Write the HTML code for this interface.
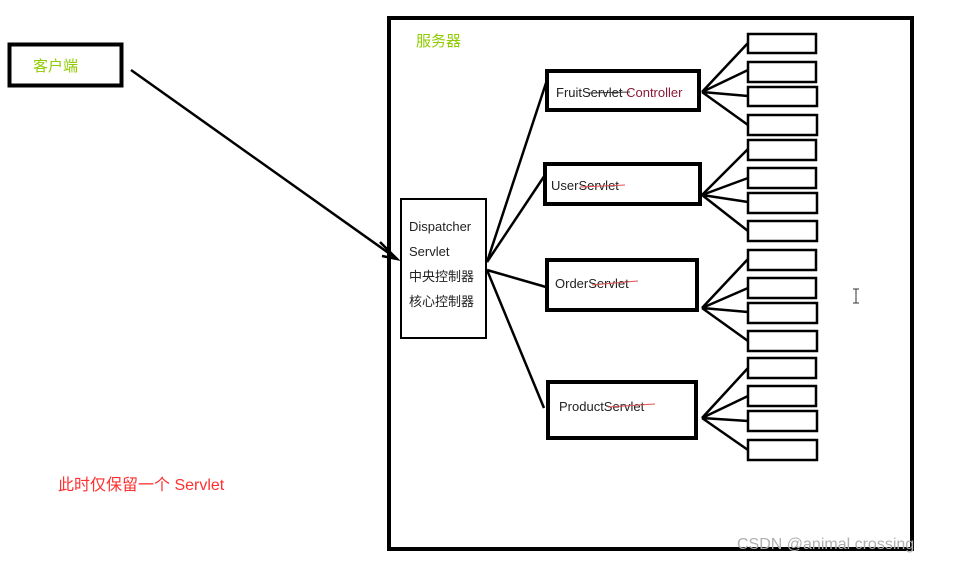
<!DOCTYPE html>
<html><head><meta charset="utf-8"><style>
html,body{margin:0;padding:0;background:#fff;width:962px;height:563px;overflow:hidden}
svg text{font-family:"Liberation Sans","Noto Sans CJK SC",sans-serif}
</style></head><body>
<svg width="962" height="563" viewBox="0 0 962 563" xmlns="http://www.w3.org/2000/svg">
<rect x="0" y="0" width="962" height="563" fill="#fff"/>
<!-- server box -->
<rect x="389" y="18" width="523" height="531" fill="none" stroke="#000" stroke-width="4"/>
<text x="416" y="46" font-size="15" fill="#8fcc00">服务器</text>
<!-- client -->
<rect x="9.5" y="44.5" width="112" height="41" fill="none" stroke="#000" stroke-width="4"/>
<text x="33" y="71" font-size="15" fill="#8fcc00">客户端</text>
<!-- arrow -->
<line x1="131" y1="70" x2="397" y2="259" stroke="#000" stroke-width="2.5"/>
<path d="M380 242 L397 259 L382 256" fill="none" stroke="#000" stroke-width="2.5"/>
<!-- dispatcher -->
<rect x="401" y="199" width="85" height="139" fill="#fff" stroke="#000" stroke-width="2"/>
<text font-size="13" fill="#222"><tspan x="409" y="231">Dispatcher</tspan><tspan x="409" y="256">Servlet</tspan><tspan x="409" y="281">中央控制器</tspan><tspan x="409" y="306">核心控制器</tspan></text>
<!-- dispatcher lines -->
<g stroke="#000" stroke-width="2.5" fill="none">
<line x1="487" y1="262" x2="547" y2="80"/>
<line x1="487" y1="262" x2="545" y2="175"/>
<line x1="487" y1="270" x2="546" y2="287"/>
<line x1="487" y1="270" x2="544" y2="408"/>
</g>
<!-- servlets -->
<g fill="#fff" stroke="#000" stroke-width="4">
<rect x="547" y="71" width="152" height="39"/>
<rect x="545" y="164" width="155" height="40"/>
<rect x="547" y="260" width="150" height="50"/>
<rect x="548" y="382" width="148" height="56"/>
</g>
<text x="556" y="97" font-size="13" fill="#222">Fruit<tspan>Servlet</tspan> <tspan fill="#8b1a3a">Controller</tspan></text>
<line x1="589" y1="93" x2="630" y2="92" stroke="#333" stroke-width="1"/>
<text x="551" y="190" font-size="13" fill="#222">UserServlet</text>
<line x1="580" y1="187" x2="625" y2="185" stroke="#e05050" stroke-width="1"/>
<text x="555" y="288" font-size="13" fill="#222">OrderServlet</text>
<line x1="592" y1="285" x2="638" y2="281" stroke="#e05050" stroke-width="1"/>
<text x="559" y="411" font-size="13" fill="#222">ProductServlet</text>
<line x1="608" y1="407" x2="655" y2="404" stroke="#e05050" stroke-width="1"/>
<!-- fan lines -->
<g stroke="#000" stroke-width="2.5" fill="none">
<path d="M702 92 L748 43 M702 92 L748 70 M702 92 L748 96 M702 92 L748 125"/>
<path d="M702 195 L748 149 M702 195 L748 178 M702 195 L748 202 M702 195 L748 231"/>
<path d="M702 308 L748 259 M702 308 L748 288 M702 308 L748 312 M702 308 L748 341"/>
<path d="M702 418 L748 368 M702 418 L748 396 M702 418 L748 421 M702 418 L748 450"/>
</g>
<!-- small boxes -->
<g fill="#fff" stroke="#000" stroke-width="2.5">
<rect x="748" y="34" width="68" height="19"/><rect x="748" y="62" width="68" height="20"/><rect x="748" y="87" width="69" height="19"/><rect x="748" y="115" width="69" height="20"/>
<rect x="748" y="140" width="68" height="20"/><rect x="748" y="168" width="68" height="20"/><rect x="748" y="193" width="69" height="20"/><rect x="748" y="221" width="69" height="20"/>
<rect x="748" y="250" width="68" height="20"/><rect x="748" y="278" width="68" height="20"/><rect x="748" y="303" width="69" height="20"/><rect x="748" y="331" width="69" height="20"/>
<rect x="748" y="358" width="68" height="20"/><rect x="748" y="386" width="68" height="20"/><rect x="748" y="411" width="69" height="20"/><rect x="748" y="440" width="69" height="20"/>
</g>
<!-- cursor -->
<path d="M853 289 h6 M856 289 v14 M853 303 h6" stroke="#333" stroke-width="1" fill="none"/>
<text x="58" y="490" font-size="16" fill="#ff3030">此时仅保留一个 Servlet</text>
<text x="737" y="549" font-size="16" fill="#b0b0b0">CSDN @animal crossing</text>
</svg>
</body></html>
